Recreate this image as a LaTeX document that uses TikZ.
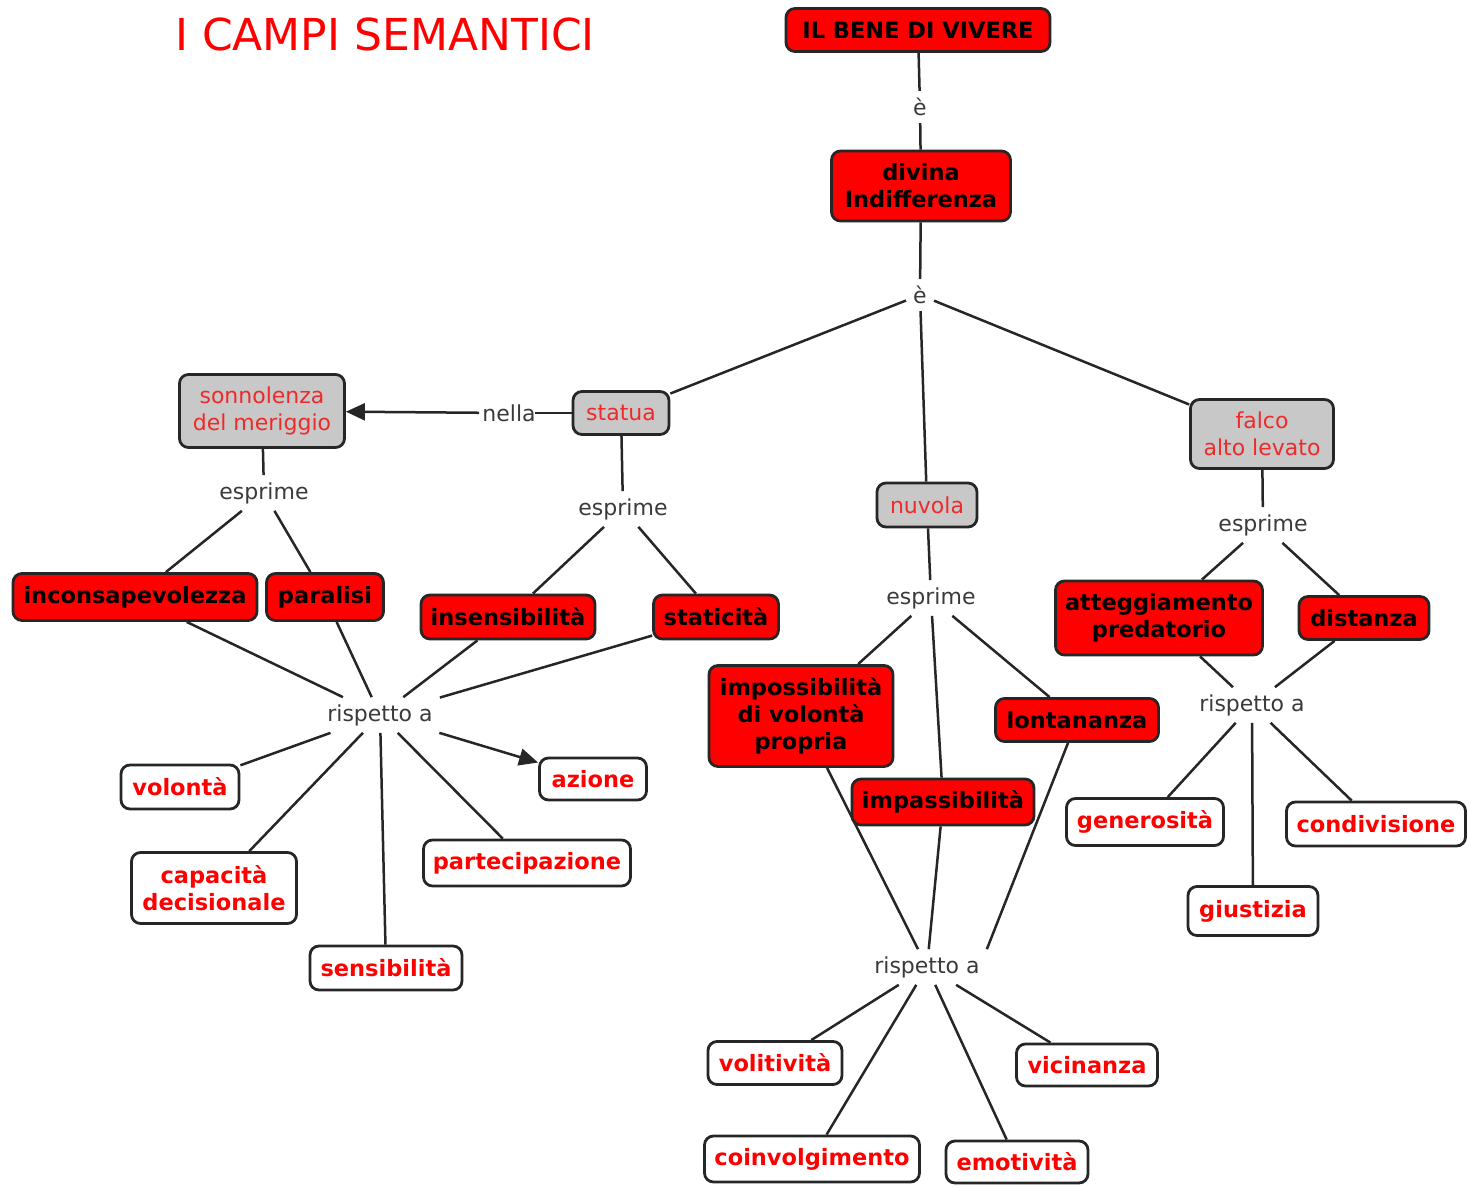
\documentclass[tikz,border=0pt]{standalone}
\usepackage{fontspec}
\setmainfont{DejaVu Sans}
\usetikzlibrary{arrows.meta}
\pgfdeclarelayer{background}
\pgfsetlayers{background,main}
\definecolor{bd}{HTML}{262626}
\definecolor{gr}{HTML}{C8C8C8}
\definecolor{rd}{HTML}{FF0000}
\definecolor{rt}{HTML}{EE2A2A}
\definecolor{lk}{HTML}{3A3A3A}
\tikzset{
  cbase/.style={draw=bd, line width=2.8pt, rounded corners=9pt, align=center, inner sep=0pt},
  cred/.style={cbase, fill=rd, text=black, font=\bfseries\fontsize{22.5}{27}\selectfont},
  cwhite/.style={cbase, fill=white, text=rd, font=\bfseries\fontsize{22.5}{27}\selectfont},
  cgray/.style={cbase, fill=gr, text=rt, font=\fontsize{22}{27}\selectfont},
  lnk/.style={text=lk, font=\fontsize{22}{27}\selectfont, inner sep=7pt},
  conn/.style={draw=bd, line width=2.5pt},
  sz/.style 2 args={minimum width=#1pt, minimum height=#2pt}
}
\begin{document}
\begin{tikzpicture}[x=1pt,y=-1pt]
\useasboundingbox (0,0) rectangle (1469,1186);
% title
\node[text=rd, font=\fontsize{44}{52}\selectfont, inner sep=0pt] (title) at (385,34) {I CAMPI SEMANTICI};
% top
\node[cred, sz={264}{43}] (bene) at (918,30) {IL BENE DI VIVERE};
\node[lnk] (e1) at (920,107) {è};
\node[cred, sz={179}{70}] (divina) at (921,186) {divina\\Indifferenza};
\node[lnk] (e2) at (920,295) {è};
% gray concepts
\node[cgray, sz={96}{43}] (statua) at (621,413) {statua};
\node[cgray, sz={165}{73}] (sonno) at (262,411) {sonnolenza\\del meriggio};
\node[lnk, inner sep=3pt] (nella) at (509,413) {nella};
\node[cgray, sz={100}{44}] (nuvola) at (927,505) {nuvola};
\node[cgray, sz={143}{69}] (falco) at (1262,434) {falco\\alto levato};
% esprime labels
\node[lnk] (es1) at (264,493) {esprime};
\node[lnk] (es2) at (623,509) {esprime};
\node[lnk] (es3) at (931,598) {esprime};
\node[lnk] (es4) at (1263,525) {esprime};
% left group
\node[cred, sz={244}{47}] (incon) at (135,597) {inconsapevolezza};
\node[cred, sz={117}{47}] (paral) at (325,597) {paralisi};
\node[cred, sz={174}{44}] (insens) at (508,617) {insensibilità};
\node[cred, sz={125}{44}] (static) at (716,617) {staticità};
\node[lnk] (r1) at (380,715) {rispetto a};
\node[cwhite, sz={118}{44}] (volonta) at (180,787) {volontà};
\node[cwhite, sz={107}{42}] (azione) at (593,779) {azione};
\node[cwhite, sz={165}{71}] (capac) at (214,888) {capacità\\decisionale};
\node[cwhite, sz={207}{46}] (partec) at (527,863) {partecipazione};
\node[cwhite, sz={152}{44}] (sensib) at (386,968) {sensibilità};
% middle group
\node[cred, sz={184}{101}] (imposs) at (801,716) {impossibilità\\di volontà\\propria};
\node[cred, sz={163}{43}] (lontan) at (1077,720) {lontananza};
\node[cred, sz={182}{46}] (impass) at (943,802) {impassibilità};
\node[lnk] (r2) at (927,967) {rispetto a};
\node[cwhite, sz={134}{43}] (volit) at (775,1063) {volitività};
\node[cwhite, sz={141}{42}] (vicin) at (1087,1065) {vicinanza};
\node[cwhite, sz={215}{46}] (coinv) at (812,1159) {coinvolgimento};
\node[cwhite, sz={142}{42}] (emoti) at (1017,1162) {emotività};
% right group
\node[cred, sz={207}{74}] (attegg) at (1159,618) {atteggiamento\\predatorio};
\node[cred, sz={130}{43}] (dist) at (1364,618) {distanza};
\node[lnk] (r3) at (1252,705) {rispetto a};
\node[cwhite, sz={157}{47}] (gener) at (1145,822) {generosità};
\node[cwhite, sz={179}{44}] (condiv) at (1376,824) {condivisione};
\node[cwhite, sz={130}{49}] (giust) at (1253,911) {giustizia};

\begin{pgfonlayer}{background}
\draw[conn] (bene) -- (e1);
\draw[conn] (e1) -- (divina);
\draw[conn] (divina) -- (e2);
\draw[conn] (e2) -- (statua);
\draw[conn] (e2) -- (nuvola);
\draw[conn] (e2) -- (falco);
\draw[conn] (statua) -- ([xshift=-4pt]nella.east);
\draw[conn, -{Triangle[length=19pt,width=17pt]}] (nella) -- (sonno);
\draw[conn] (sonno) -- (es1);
\draw[conn] (es1) -- (incon);
\draw[conn] (es1) -- (paral);
\draw[conn] (statua) -- (es2);
\draw[conn] (es2) -- (insens);
\draw[conn] (es2) -- (static);
\draw[conn] (incon) -- (r1);
\draw[conn] (paral) -- (r1);
\draw[conn] (insens) -- (r1);
\draw[conn] (static) -- (r1);
\draw[conn] (r1) -- (volonta);
\draw[conn] (r1) -- (capac);
\draw[conn] (r1) -- (sensib);
\draw[conn] (r1) -- (partec);
\draw[conn, -{Triangle[length=19pt,width=17pt]}] (r1) -- (azione);
\draw[conn] (nuvola) -- (es3);
\draw[conn] (es3) -- (imposs);
\draw[conn] (es3) -- (impass);
\draw[conn] (es3) -- (lontan);
\draw[conn] (imposs) -- (r2);
\draw[conn] (impass) -- (r2);
\draw[conn] (lontan) -- (r2.north east);
\draw[conn] (r2) -- (volit);
\draw[conn] (r2) -- (coinv);
\draw[conn] (r2) -- (emoti);
\draw[conn] (r2) -- (vicin);
\draw[conn] (falco) -- (es4);
\draw[conn] (es4) -- (attegg);
\draw[conn] (es4) -- (dist);
\draw[conn] (attegg) -- (r3);
\draw[conn] (dist) -- (r3);
\draw[conn] (r3) -- (gener);
\draw[conn] (r3) -- (giust);
\draw[conn] (r3) -- (condiv);
\end{pgfonlayer}
\end{tikzpicture}
\end{document}
